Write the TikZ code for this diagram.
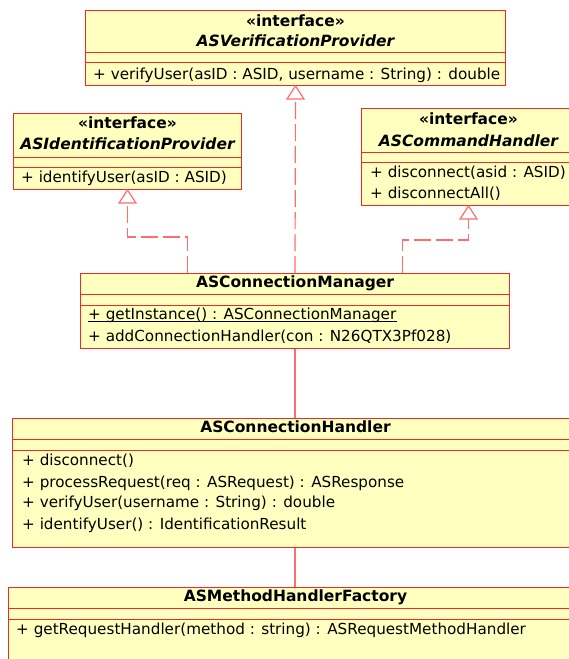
\documentclass[tikz,border=0pt]{standalone}
\usepackage{fontspec}
\setmainfont{DejaVu Sans}
\definecolor{umlred}{HTML}{F02828}
\definecolor{umlfill}{HTML}{FFFFC0}
\definecolor{linkred}{HTML}{FF6E6E}
\begin{document}
\begin{tikzpicture}[x=1pt,y=-1pt,
  cls/.style={draw=umlred, line width=1pt, fill=umlfill, rectangle, inner sep=0pt, anchor=north west},
  sepline/.style={draw=umlred, line width=1pt},
  title/.style={inner sep=0pt, anchor=mid, font=\fontsize{15.5}{17}\selectfont\bfseries},
  ititle/.style={title, font=\fontsize{15.5}{17}\selectfont\bfseries\itshape},
  member/.style={inner sep=0pt, anchor=mid west, font=\fontsize{15.2}{17}\selectfont},
  realize/.style={draw=linkred, line width=1.2pt, dash pattern=on 17pt off 5pt, shorten >=13pt},
  tri/.style={draw=linkred, fill=white, line width=1.2pt, line join=miter},
  assoc/.style={draw=linkred, line width=1.2pt}
]
\useasboundingbox (0,0) rectangle (569,659);
\fill[white] (0,0) rectangle (569,659);

% compartment lines of a class box
\newcommand{\umlcompartments}[3]{% node, first separator, second separator
  \draw[sepline] ([yshift=-#2pt]#1.north west) -- ([yshift=-#2pt]#1.north east);
  \draw[sepline] ([yshift=-#3pt]#1.north west) -- ([yshift=-#3pt]#1.north east);}

% class boxes
\node[cls, minimum width=420pt, minimum height=75pt] (vp) at (85,10) {};
\node[cls, minimum width=228pt, minimum height=76pt] (ip) at (13,113) {};
\node[cls, minimum width=214pt, minimum height=97pt] (ch) at (361,108) {};
\node[cls, minimum width=429pt, minimum height=75pt] (cm) at (80,273) {};
\node[cls, minimum width=566pt, minimum height=129pt] (hd) at (12,418) {};
\node[cls, minimum width=574pt, minimum height=100pt] (mf) at (8,587) {};
\umlcompartments{vp}{42}{52}
\umlcompartments{ip}{44}{54}
\umlcompartments{ch}{44}{54}
\umlcompartments{cm}{21}{32}
\umlcompartments{hd}{21}{32}
\umlcompartments{mf}{21}{32}

% interface realizations: dashed path, then a hollow triangle at the interface
\draw[realize] (cm.north) -- (vp.south);
\draw[realize] ([xshift=-107.5pt]cm.north) |- ++(0,-36) -| (ip.south);
\draw[realize] ([xshift=107.5pt]cm.north) |- ++(0,-33) -| (ch.south);
\draw[tri] (vp.south) -- ++(8.5,13) -- ++(-17,0) -- cycle;
\draw[tri] (ip.south) -- ++(8.5,13) -- ++(-17,0) -- cycle;
\draw[tri] (ch.south) -- ++(8.5,13) -- ++(-17,0) -- cycle;

% associations
\draw[assoc] (cm.south) -- (hd.north -| cm.south);
\draw[assoc] (hd.south -| cm.south) -- (mf.north -| cm.south);

% ASVerificationProvider
\node[title] (vps) at ([yshift=-14pt]vp.north) {«interface»};
\node[ititle] (vpn) at ([yshift=-34pt]vp.north) {ASVerificationProvider};
\node[member] (vpm) at ([xshift=8pt,yshift=-67pt]vp.north west) {+ verifyUser(asID : ASID, username : String) : double};

% ASIdentificationProvider
\node[title] (ips) at ([yshift=-13pt]ip.north) {«interface»};
\node[ititle] (ipn) at ([yshift=-34pt]ip.north) {ASIdentificationProvider};
\node[member] (ipm) at ([xshift=8pt,yshift=-67pt]ip.north west) {+ identifyUser(asID : ASID)};

% ASCommandHandler
\node[title] (chs) at ([yshift=-14pt]ch.north) {«interface»};
\node[ititle] (chn) at ([yshift=-36pt]ch.north) {ASCommandHandler};
\node[member] (chm1) at ([xshift=9pt,yshift=-67pt]ch.north west) {+ disconnect(asid : ASID)};
\node[member] (chm2) at ([xshift=9pt,yshift=-88pt]ch.north west) {+ disconnectAll()};

% ASConnectionManager
\node[title] (cmn) at ([yshift=-12pt]cm.north) {ASConnectionManager};
\node[member] (cmm1) at ([xshift=8pt,yshift=-44pt]cm.north west) {+ getInstance() : ASConnectionManager};
\draw[line width=0.8pt] ([yshift=-1.8pt]cmm1.base west) -- ([yshift=-1.8pt]cmm1.base east);
\node[member] (cmm2) at ([xshift=8pt,yshift=-66pt]cm.north west) {+ addConnectionHandler(con : N26QTX3Pf028)};

% ASConnectionHandler
\node[title] (hdn) at ([yshift=-12pt]hd.north) {ASConnectionHandler};
\node[member] (hdm1) at ([xshift=10pt,yshift=-45pt]hd.north west) {+ disconnect()};
\node[member] (hdm2) at ([xshift=10pt,yshift=-67pt]hd.north west) {+ processRequest(req : ASRequest) : ASResponse};
\node[member] (hdm3) at ([xshift=10pt,yshift=-87pt]hd.north west) {+ verifyUser(username : String) : double};
\node[member] (hdm4) at ([xshift=10pt,yshift=-109pt]hd.north west) {+ identifyUser() : IdentificationResult};

% ASMethodHandlerFactory
\node[title] (mfn) at ([yshift=-12pt]mf.north) {ASMethodHandlerFactory};
\node[member] (mfm) at ([xshift=8pt,yshift=-45pt]mf.north west) {+ getRequestHandler(method : string) : ASRequestMethodHandler};
\end{tikzpicture}
\end{document}
